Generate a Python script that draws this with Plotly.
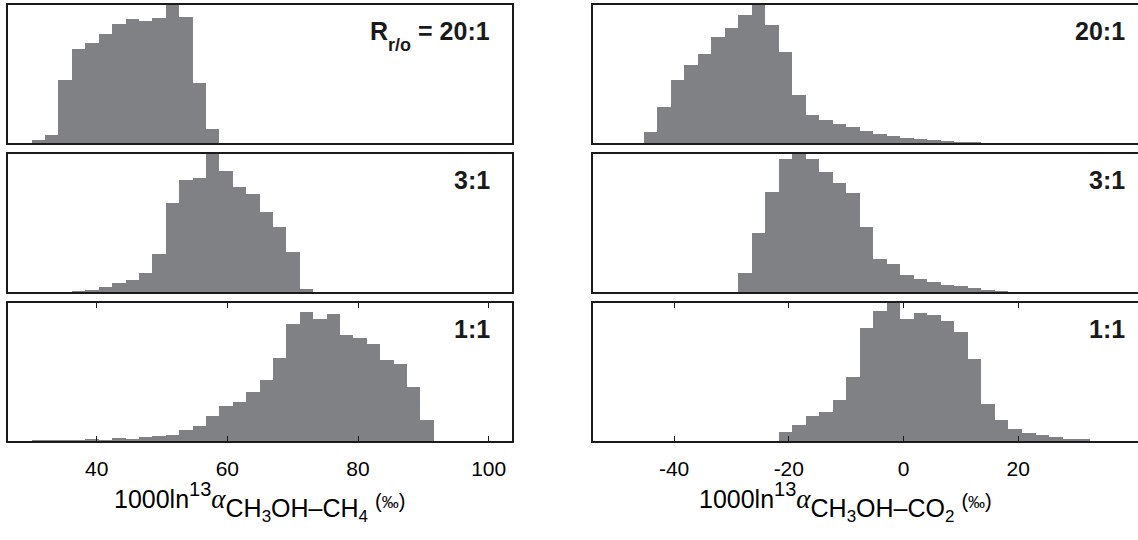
import numpy as np
import plotly.graph_objects as go

# ---------------- data (relative counts per bin) ----------------
left_bin_start = 30.05      # permil, left edge of bin 0 (CH3OH-CH4)
left_bin_width = 2.052
right_bin_start = -45.29    # permil, left edge of bin 0 (CH3OH-CO2)
right_bin_width = 2.355

ch4_20_first = 0
ch4_20 = [8, 24, 189, 283, 301, 326, 358, 372, 366, 374, 414, 378, 180, 41]
ch4_3_first = 3
ch4_3 = [2, 4, 14, 28, 36, 56, 114, 264, 331, 337, 409, 359, 312, 291, 237, 194, 120, 8]
ch4_1_first = 0
ch4_1 = [1, 1, 1, 1, 4, 2, 8, 6, 12, 16, 19, 32, 45, 74, 104, 118, 148, 183, 249, 350,
         386, 364, 379, 317, 309, 289, 241, 229, 162, 62]

co2_20_first = 0
co2_20 = [34, 108, 189, 233, 266, 317, 346, 383, 414, 355, 273, 145, 84, 68, 56, 47, 37,
          28, 20, 16, 12, 9, 5, 3, 1]
co2_3_first = 7
co2_3 = [55, 174, 296, 393, 409, 394, 357, 322, 294, 194, 98, 84, 50, 40, 31, 22, 17, 11, 5, 2]
co2_1_first = 10
co2_1 = [26, 49, 75, 85, 121, 190, 337, 386, 411, 363, 381, 375, 356, 326, 243, 110, 63,
         35, 24, 17, 12, 6, 3]

panel_labels_left = ["<b>R<span style='font-size:18px;baseline-shift:-11px'>r/o</span> = 20:1</b>",
                     "<b>3:1</b>", "<b>1:1</b>"]
panel_labels_right = ["<b>20:1</b>", "<b>3:1</b>", "<b>1:1</b>"]

left_ticks = [40, 60, 80, 100]
left_ticktext = ["40", "60", "80", "100"]
right_ticks = [-40, -20, 0, 20]
right_ticktext = ["-40", "-20", "0", "20"]
left_range = [26.43, 103.57]
right_range = [-54.13, 40.87]
ch4_1_ymax = 413

# ---------------- layout geometry (pixels) ----------------
W, H = 1138, 540
ML, MR, MT, MB = 8, 0, 5, 99
PW, PH = W - ML - MR, H - MT - MB
BAR_COLOR = "#808185"
FONT = "Liberation Sans"


def px_x(x):
    return (x - ML) / PW


def px_y(y):
    return (H - MB - y) / PH


rows_px = [(5, 143), (154, 292), (303, 441)]
col_px = [(8, 512), (593, 1138)]

fig = go.Figure()

series = [
    [(ch4_20_first, ch4_20), (co2_20_first, co2_20)],
    [(ch4_3_first, ch4_3), (co2_3_first, co2_3)],
    [(ch4_1_first, ch4_1), (co2_1_first, co2_1)],
]

layout = {}
annotations = []
for r in range(3):
    for c in range(2):
        k = r * 2 + c + 1
        first, counts = series[r][c]
        start = left_bin_start if c == 0 else right_bin_start
        width = left_bin_width if c == 0 else right_bin_width
        idx = np.arange(first, first + len(counts))
        centers = start + width * (idx + 0.5)
        fig.add_trace(go.Bar(
            x=centers, y=counts, width=width,
            marker=dict(color=BAR_COLOR, line=dict(width=0)),
            xaxis=f"x{k}", yaxis=f"y{k}", showlegend=False, hoverinfo="x+y"))

        y0, y1 = rows_px[r]
        x0, x1 = col_px[c]
        bottom = (r == 2)
        xa = dict(
            domain=[px_x(x0), px_x(x1)], anchor=f"y{k}",
            range=left_range if c == 0 else right_range,
            showline=True, linecolor="#1a1a1a", linewidth=1.5,
            mirror="ticks" if bottom else True,
            showgrid=False, zeroline=False,
            ticks="inside" if bottom else "", ticklen=5, tickwidth=1, tickcolor="#1a1a1a",
            tickmode="array",
            tickvals=(left_ticks if c == 0 else right_ticks) if bottom else [],
            ticktext=(left_ticktext if c == 0 else right_ticktext) if bottom else [],
            showticklabels=bottom,
            tickfont=dict(family=FONT, size=21, color="black"),
            ticklabelstandoff=8,
        )
        ymax = max(counts)
        if r == 2 and c == 0:
            ymax = ch4_1_ymax
        ya = dict(
            domain=[px_y(y1), px_y(y0)], anchor=f"x{k}",
            range=[0, ymax],
            showline=True, linecolor="#1a1a1a", linewidth=1.5,
            mirror=(c == 0),
            showgrid=False, zeroline=False, ticks="", showticklabels=False,
        )
        layout[f"xaxis{k}"] = xa
        layout[f"yaxis{k}"] = ya

        label = panel_labels_left[r] if c == 0 else panel_labels_right[r]
        rx = 492 if c == 0 else 1127
        annotations.append(dict(
            text=label, xref="paper", yref="paper",
            x=px_x(rx), y=px_y(y0 + 10), xanchor="right", yanchor="top",
            showarrow=False, font=dict(family=FONT, size=25, color="#1a1a1a")))

sub_small = "font-size:17px;baseline-shift:-5px"
alpha = "<span style='font-family:Liberation Serif;font-style:italic;font-size:27px'>α</span>"
permil = ("<span style='font-size:20px'>(<span style='font-size:17px'>‰</span>)</span>")


def axis_title(second):
    return ("1000ln<span style='font-size:20px;baseline-shift:12px'>13</span>" + alpha +
            "<span style='baseline-shift:-9px'>CH<span style='" + sub_small + "'>3</span>"
            "OH–" + second[0] + "<span style='" + sub_small + "'>" + second[1] + "</span></span> "
            + permil)


for txt, cx in [(axis_title(("CH", "4")), 259), (axis_title(("CO", "2")), 845)]:
    annotations.append(dict(
        text=txt, xref="paper", yref="paper", x=px_x(cx), y=px_y(476),
        xanchor="center", yanchor="top", showarrow=False,
        font=dict(family=FONT, size=25, color="black")))

fig.update_layout(
    width=W, height=H,
    margin=dict(l=ML, r=MR, t=MT, b=MB),
    paper_bgcolor="white", plot_bgcolor="white",
    bargap=0, barmode="overlay",
    annotations=annotations,
    **layout,
)

fig.write_html("out.html",
               config={"displayModeBar": False},
               post_script="document.body.style.margin='0px';document.body.style.overflow='hidden';")
